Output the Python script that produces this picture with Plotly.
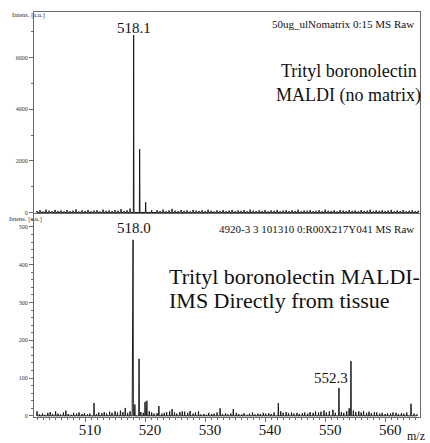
import plotly.graph_objects as go

# ---------------- data ----------------
# Top spectrum (MALDI, no matrix): main peaks (m/z, intensity a.u.)
top_peak_mz = [518.1, 519.1, 520.1, 521.1]
top_peak_int = [6880, 2460, 400, 90]
# top baseline noise
top_noise_mz = [502.0, 502.5, 503.0, 503.5, 504.0, 504.5, 505.0, 505.5, 506.0, 506.5,
                507.0, 507.5, 508.0, 508.5, 509.0, 509.5, 510.0, 510.5, 511.0, 511.5,
                512.0, 512.5, 513.0, 513.5, 514.0, 514.5, 515.0, 515.5, 516.0, 516.5,
                517.0, 517.5, 522.0, 522.5, 523.0, 523.5, 524.0, 524.5, 525.0, 525.5,
                526.0, 526.5, 527.0, 527.5, 528.0, 528.5, 529.0, 529.5, 530.0, 530.5,
                531.0, 531.5, 532.0, 532.5, 533.0, 533.5, 534.0, 534.5, 535.0, 535.5,
                536.0, 536.5, 537.0, 537.5, 538.0, 538.5, 539.0, 539.5, 540.0, 540.5,
                541.0, 541.5, 542.0, 542.5, 543.0, 543.5, 544.0, 544.5, 545.0, 545.5,
                546.0, 546.5, 547.0, 547.5, 548.0, 548.5, 549.0, 549.5, 550.0, 550.5,
                551.0, 551.5, 552.0, 552.5, 553.0, 553.5, 554.0, 554.5, 555.0, 555.5,
                556.0, 556.5, 557.0, 557.5, 558.0, 558.5, 559.0, 559.5, 560.0, 560.5,
                561.0, 561.5, 562.0, 562.5, 563.0, 563.5, 564.0, 564.5, 565.0, 565.5]
top_noise_int = [60, 90, 40, 110, 70, 50, 100, 60, 80, 45,
                 95, 55, 70, 120, 40, 85, 60, 100, 50, 75,
                 90, 40, 110, 65, 80, 55, 95, 70, 130, 60,
                 85, 150, 90, 60, 110, 50, 80, 140, 70, 55,
                 95, 65, 85, 45, 100, 75, 60, 90, 50, 110,
                 70, 40, 85, 60, 95, 55, 75, 100, 45, 80,
                 65, 90, 50, 110, 70, 55, 85, 60, 95, 45,
                 80, 65, 100, 50, 75, 90, 55, 85, 60, 105,
                 45, 80, 70, 95, 55, 65, 90, 50, 110, 70,
                 60, 85, 45, 100, 75, 55, 90, 65, 80, 50,
                 95, 60, 70, 105, 45, 85, 65, 90, 55, 75,
                 100, 50, 80, 60, 95, 45, 70, 85, 55, 65]

# Bottom spectrum (MALDI-IMS from tissue): (m/z, intensity a.u.)
bot_mz = [502.0, 502.4, 502.9, 503.3, 503.8, 504.2, 504.6, 505.1, 505.5, 505.9,
          506.4, 506.8, 507.2, 507.7, 508.1, 508.6, 509.0, 509.5, 509.9, 510.4,
          510.8, 511.5, 511.9, 512.3, 512.8, 513.2, 513.6, 514.1, 514.5, 515.0,
          515.4, 515.9, 516.3, 516.7, 517.1, 517.5, 517.9, 518.0, 518.3, 519.0,
          519.3, 519.7, 520.0, 520.3, 520.7, 521.1, 521.5, 522.0, 522.3, 522.8,
          523.2, 523.6, 524.1, 524.5, 524.9, 525.3, 525.8, 526.2, 526.6, 527.1,
          527.5, 528.0, 528.4, 528.9, 529.3, 529.8, 530.2, 530.6, 531.1, 531.5,
          532.0, 532.5, 532.9, 533.4, 533.8, 534.3, 534.7, 535.2, 535.6, 536.1,
          536.5, 537.0, 537.4, 537.9, 538.3, 538.8, 539.2, 539.7, 540.1, 540.6,
          541.0, 541.5, 542.2, 542.6, 543.0, 543.5, 543.9, 544.4, 544.8, 545.3,
          545.7, 546.2, 546.6, 547.1, 547.5, 548.0, 548.4, 548.9, 549.3, 549.8,
          550.2, 550.7, 551.3, 551.7, 552.3, 552.7, 553.1, 553.6, 554.0, 554.3,
          554.7, 555.1, 555.6, 556.0, 556.4, 556.9, 557.3, 557.7, 558.2, 558.6,
          559.1, 559.5, 560.0, 560.4, 560.9, 561.3, 561.8, 562.2, 562.7, 563.1,
          563.6, 564.3, 564.8, 565.3]
bot_int = [12, 4, 6, 3, 8, 10, 5, 12, 6, 4,
           9, 14, 5, 3, 8, 6, 9, 5, 7, 4,
           6, 34, 5, 9, 7, 10, 6, 11, 8, 12,
           9, 14, 10, 21, 8, 12, 215, 466, 30, 151,
           10, 8, 37, 40, 12, 9, 6, 7, 26, 6,
           8, 10, 12, 18, 9, 6, 10, 12, 11, 8,
           13, 6, 9, 12, 4, 5, 3, 8, 5, 6,
           9, 20, 5, 7, 4, 6, 18, 8, 5, 4,
           7, 3, 6, 9, 4, 6, 5, 8, 6, 7,
           5, 9, 34, 12, 8, 10, 7, 9, 6, 8,
           5, 7, 9, 6, 10, 8, 12, 9, 11, 14,
           9, 12, 16, 8, 74, 10, 8, 12, 20, 145,
           14, 10, 12, 9, 13, 8, 11, 7, 10, 9,
           6, 8, 5, 7, 6, 9, 8, 5, 7, 6,
           9, 32, 6, 4]

x_range = [501.5, 565.8]
x_ticks = [510, 520, 530, 540, 550, 560]
top_y_ticks = [0, 2000, 4000, 6000]
bot_y_ticks = [0, 100, 200, 300, 400, 500]

# ---------------- helpers ----------------
def sticks(mz, inten, half=0.05):
    pts = sorted(zip(mz, inten))
    xs, ys = [], []
    for m, h in pts:
        xs += [m - half, m, m + half]
        ys += [0, h, 0]
    return xs, ys

W, H = 430, 443
L, R, T, B = 34, 10, 12, 26
PW, PH = W - L - R, H - T - B

def px(xp):
    return (xp - L) / PW

def py(yp):
    return (H - B - yp) / PH

split = (H - B - 213) / PH

serif = "Liberation Serif, Times New Roman, serif"
line_col = "#1a1a1a"
axis_col = "#6a6a6a"

tx, ty = sticks(top_peak_mz + top_noise_mz, top_peak_int + top_noise_int)
bx, by = sticks(bot_mz, bot_int)

fig = go.Figure()
fig.add_trace(go.Scatter(x=tx, y=ty, mode="lines", line=dict(color=line_col, width=1),
                         xaxis="x2", yaxis="y2", hoverinfo="skip", showlegend=False))
fig.add_trace(go.Scatter(x=bx, y=by, mode="lines", line=dict(color=line_col, width=1),
                         xaxis="x", yaxis="y", hoverinfo="skip", showlegend=False))

tickfont_small = dict(family=serif, size=6, color="#333")

fig.update_layout(
    width=W, height=H,
    margin=dict(l=L, r=R, t=T, b=B, pad=0),
    paper_bgcolor="white", plot_bgcolor="white",
    showlegend=False,
    xaxis=dict(domain=[0, 1], range=x_range, anchor="y", showgrid=False, zeroline=False,
               showline=True, linecolor=axis_col, linewidth=1,
               tickvals=x_ticks, ticks="outside", ticklen=4, tickcolor=axis_col,
               ticklabelshift=5, ticklabelstandoff=-5, automargin=False,
               tickfont=dict(family=serif, size=15, color="#111"),
               minor=dict(dtick=1, ticks="outside", ticklen=2, tickcolor=axis_col)),
    yaxis=dict(domain=[0, split], range=[-3, 537], anchor="x", showgrid=False, zeroline=False,
               showline=True, linecolor=axis_col, linewidth=1, mirror=True, automargin=False,
               tickvals=bot_y_ticks, ticks="outside", ticklen=4, tickcolor=axis_col,
               tickfont=tickfont_small,
               minor=dict(dtick=20, ticks="outside", ticklen=2, tickcolor=axis_col)),
    xaxis2=dict(domain=[0, 1], range=x_range, anchor="y2", matches="x", showgrid=False,
                zeroline=False, showline=True, linecolor=axis_col, linewidth=1, mirror=True,
                showticklabels=False, ticks=""),
    yaxis2=dict(domain=[split, 1], range=[-20, 7770], anchor="x2", showgrid=False,
                zeroline=False, showline=True, linecolor=axis_col, linewidth=1, mirror=True,
                automargin=False,
                tickvals=top_y_ticks, ticks="outside", ticklen=4, tickcolor=axis_col,
                tickfont=tickfont_small,
                minor=dict(dtick=1000, ticks="outside", ticklen=2, tickcolor=axis_col)),
)

big_top = dict(family=serif, size=18, color="#111")
big_bot = dict(family=serif, size=22, color="#111")
ann = [
    dict(text="Intens. [a.u.]", x=px(10), y=py(15), xanchor="left", yanchor="middle",
         font=dict(family=serif, size=6.5, color="#333")),
    dict(text="Intens. [a.u.]", x=px(7), y=py(219), xanchor="left", yanchor="middle",
         font=dict(family=serif, size=6.5, color="#333")),
    dict(text="518.1", x=px(134), y=py(28), xanchor="center", yanchor="middle",
         font=dict(family=serif, size=15, color="#111")),
    dict(text="50ug_ulNomatrix 0:15 MS Raw", x=px(416), y=py(24), xanchor="right",
         yanchor="middle", font=dict(family=serif, size=11, color="#111")),
    dict(text="Trityl boronolectin", x=px(349), y=py(71), xanchor="center", yanchor="middle",
         font=big_top),
    dict(text="MALDI (no matrix)", x=px(348), y=py(95), xanchor="center", yanchor="middle",
         font=big_top),
    dict(text="4920-3 3 101310 0:R00X217Y041 MS Raw", x=px(416), y=py(229),
         xanchor="right", yanchor="middle", font=dict(family=serif, size=11, color="#111")),
    dict(text="518.0", x=px(134), y=py(228), xanchor="center", yanchor="middle",
         font=dict(family=serif, size=15, color="#111")),
    dict(text="Trityl boronolectin MALDI-", x=px(167), y=py(276), xanchor="left",
         yanchor="middle", font=big_bot),
    dict(text="IMS Directly from tissue", x=px(167), y=py(300), xanchor="left",
         yanchor="middle", font=big_bot),
    dict(text="552.3", x=px(331), y=py(378), xanchor="center", yanchor="middle",
         font=dict(family=serif, size=15, color="#111")),
    dict(text="m/z", x=px(405), y=py(436), xanchor="left", yanchor="middle",
         font=dict(family=serif, size=12, color="#111")),
]
for a in ann:
    a.update(xref="paper", yref="paper", showarrow=False)
fig.update_layout(annotations=ann)

fig.write_html(
    "out.html",
    config={"displayModeBar": False, "staticPlot": True},
    post_script="document.body.style.margin='0px';document.body.style.padding='0px';"
                "document.body.style.overflow='hidden';",
)
